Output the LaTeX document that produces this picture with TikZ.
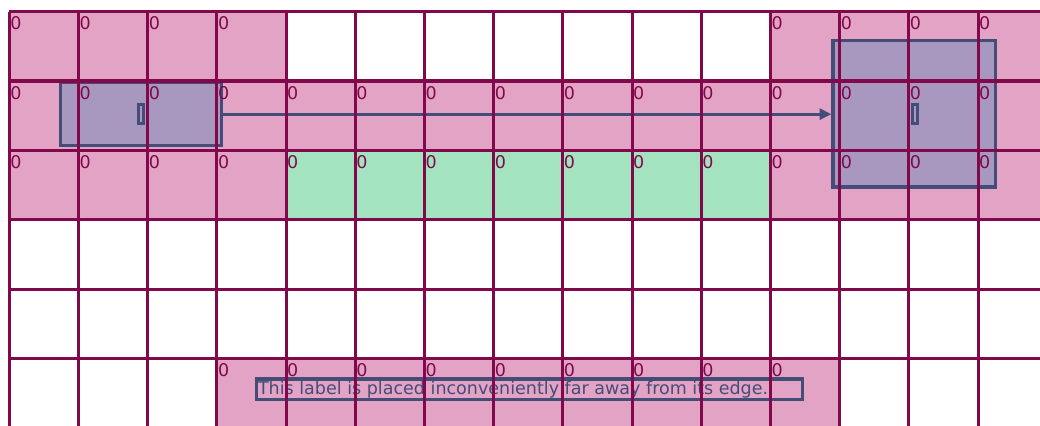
\documentclass[tikz,border=0pt]{standalone}
\usepackage{fontspec}
\setmainfont{DejaVu Sans}
\usetikzlibrary{arrows.meta}
\definecolor{gridc}{RGB}{128,8,75}
\definecolor{pinkc}{RGB}{227,163,196}
\definecolor{greenc}{RGB}{163,227,192}
\definecolor{purplec}{RGB}{168,152,191}
\definecolor{slatec}{RGB}{68,77,120}
\begin{document}
\begin{tikzpicture}[x=1cm, y=1.0029cm,
  gridline/.style={draw=gridc, line width=1.3pt},
  zero/.style={text=gridc, font=\fontsize{7.2}{8.6}\selectfont, anchor=base west, inner sep=0pt},
  pbox/.style={draw=slatec, fill=purplec, line width=1.25pt, inner sep=0pt},
  tinybox/.style={draw=slatec, line width=1.25pt, inner sep=0pt, minimum width=0.08cm, minimum height=0.286cm},
  conn/.style={draw=slatec, line width=1.25pt, -{Triangle[length=4.9pt,width=4.5pt]}},
  lbox/.style={draw=slatec, line width=1.25pt, inner sep=0pt},
  ltext/.style={text=slatec, font=\fontsize{7.2}{8.6}\selectfont, anchor=base west, inner sep=0pt}
]
\useasboundingbox (-0.1344,0.167) rectangle (14.895,-5.957);
\clip (-0.1344,0.167) rectangle (14.895,-5.957);
% cell fills
\fill[pinkc] (0,0) rectangle (4,-1);
\fill[pinkc] (11,0) rectangle (15,-1);
\fill[pinkc] (0,-1) rectangle (15,-2);
\fill[pinkc] (0,-2) rectangle (4,-3);
\fill[pinkc] (11,-2) rectangle (15,-3);
\fill[greenc] (4,-2) rectangle (11,-3);
\fill[pinkc] (3,-5) rectangle (12,-6);
% boxes
\node[pbox, minimum width=2.331cm, minimum height=0.902cm] (b1) at (1.907,-1.478) {};
\node[pbox, minimum width=2.355cm, minimum height=2.115cm] (b2) at (13.081,-1.473) {};
\node[tinybox] (t1) at (1.906,-1.476) {};
\node[tinybox] (t2) at (13.088,-1.476) {};
\draw[conn] (b1.east) -- (b2.west |- b1.east);
% label
\node[lbox, minimum width=7.893cm, minimum height=0.299cm] (lb) at (7.522,-5.443) {};
\node[ltext] (lt) at (3.587,-5.524) {This label is placed inconveniently far away from its edge.};
% zeros
\foreach \c in {0,1,2,3,11,12,13,14} \node[zero] (za-\c) at (\c+0.009,-0.265) {0};
\foreach \c in {0,...,14} \node[zero] (zb-\c) at (\c+0.009,-1.265) {0};
\foreach \c in {0,...,14} \node[zero] (zc-\c) at (\c+0.009,-2.265) {0};
\foreach \c in {3,...,11} \node[zero] (zd-\c) at (\c+0.009,-5.265) {0};
% grid
\foreach \c in {0,...,15} \draw[gridline] (\c,0) -- (\c,-6.2);
\foreach \r in {0,...,5} \draw[gridline] (0,-\r) -- (15,-\r);
\end{tikzpicture}
\end{document}
